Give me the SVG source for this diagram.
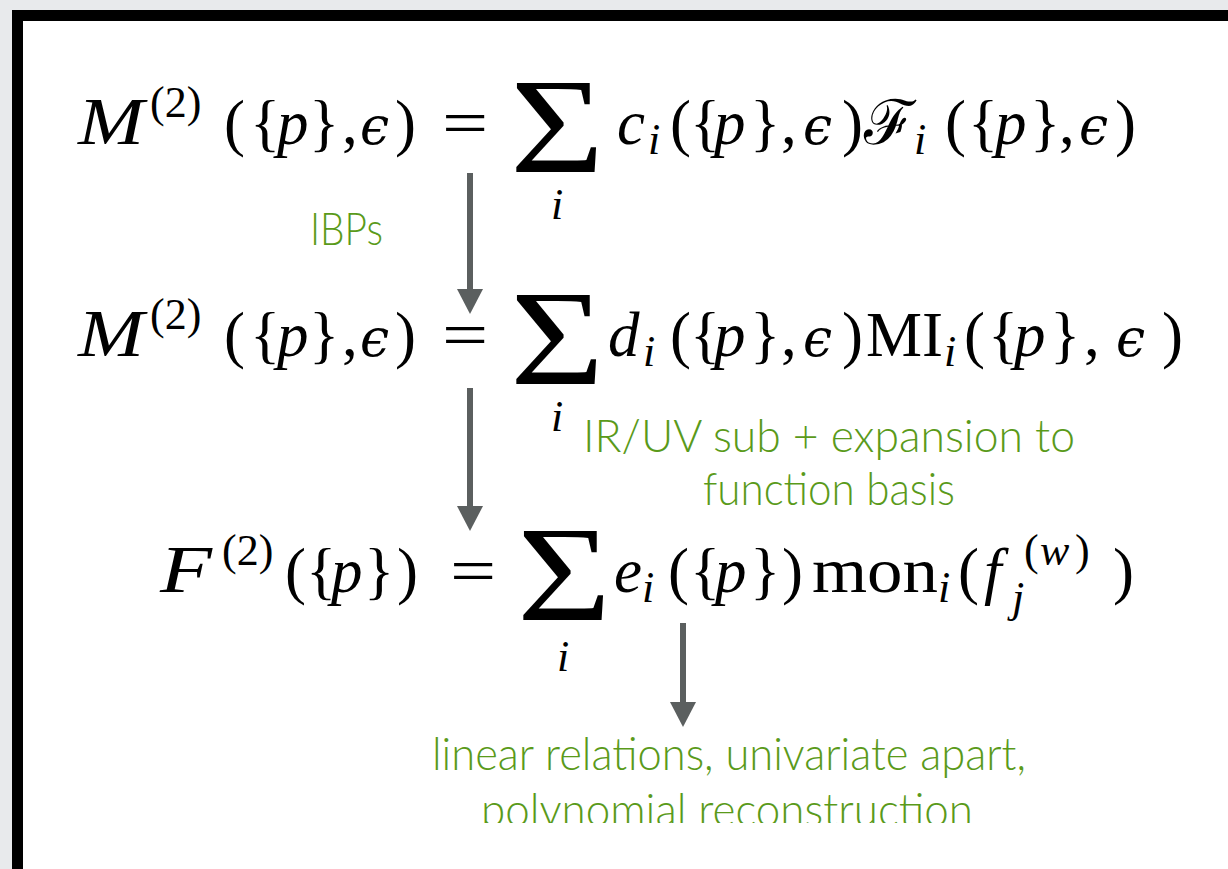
<svg xmlns="http://www.w3.org/2000/svg" width="1228" height="869" viewBox="0 0 1228 869">
<style>
.m{font-family:"Liberation Serif",serif;font-size:63px;fill:#000}
.it{font-style:italic}
.s{font-size:44px}
.big{font-size:67px}
.ep{font-family:"DejaVu Serif",serif;font-style:italic;font-size:52px}
.cal{font-size:62px}
.sig{font-family:"Liberation Serif",serif;font-size:136px;fill:#000}
.g{font-family:Lato,"Open Sans",sans-serif;font-weight:300;font-size:46px;fill:#5a9a1a}
.sh{stroke:#5b5f5f;stroke-width:6;fill:none}
</style>
<defs>
<marker id="ah" markerUnits="userSpaceOnUse" markerWidth="26" markerHeight="26" refX="0" refY="13" orient="auto">
<path d="M0,0 L25,13 L0,26 z" fill="#5b5f5f"/>
</marker>
<clipPath id="bot"><rect x="0" y="0" width="1228" height="823"/></clipPath>
</defs>
<rect x="0" y="0" width="1228" height="869" fill="#e8eaec"/>
<rect x="17.5" y="15.5" width="1230" height="880" fill="#fff" stroke="#000" stroke-width="11"/>

<g id="eq1">
<text class="m" y="144"><tspan class="it big" x="78" textLength="66" lengthAdjust="spacingAndGlyphs">M</tspan><tspan class="s" x="150" y="117">(2)</tspan><tspan x="224" y="144">(</tspan><tspan x="250">{</tspan><tspan class="it" x="277">p</tspan><tspan x="309">}</tspan><tspan x="342">,</tspan><tspan class="ep" x="360">ϵ</tspan><tspan x="395">)</tspan><tspan class="it" x="617">c</tspan><tspan class="it s" x="648" y="154">i</tspan><tspan x="670" y="144">(</tspan><tspan x="690">{</tspan><tspan class="it" x="714">p</tspan><tspan x="750">}</tspan><tspan x="781">,</tspan><tspan class="ep" x="803">ϵ</tspan><tspan x="842">)</tspan><tspan class="cal" x="864">ℱ</tspan><tspan class="it s" x="914" y="154">i</tspan><tspan x="945" y="144">(</tspan><tspan x="968">{</tspan><tspan class="it" x="995">p</tspan><tspan x="1030">}</tspan><tspan x="1059">,</tspan><tspan class="ep" x="1079">ϵ</tspan><tspan x="1115">)</tspan></text>
<text class="m" transform="translate(442,144) scale(1.3,1)">=</text>
<text class="sig" transform="translate(510,172) scale(1.19,1)">Σ</text>
<text class="m it s" x="551" y="219">i</text>
</g>

<g id="eq2">
<text class="m" y="356"><tspan class="it big" x="78" textLength="66" lengthAdjust="spacingAndGlyphs">M</tspan><tspan class="s" x="150" y="329">(2)</tspan><tspan x="224" y="356">(</tspan><tspan x="250">{</tspan><tspan class="it" x="277">p</tspan><tspan x="309">}</tspan><tspan x="342">,</tspan><tspan class="ep" x="360">ϵ</tspan><tspan x="395">)</tspan><tspan class="it" x="608">d</tspan><tspan class="it s" x="643" y="366">i</tspan><tspan x="670" y="356">(</tspan><tspan x="690">{</tspan><tspan class="it" x="714">p</tspan><tspan x="750">}</tspan><tspan x="781">,</tspan><tspan class="ep" x="803">ϵ</tspan><tspan x="842">)</tspan><tspan x="866">MI</tspan><tspan class="it s" x="944" y="366">i</tspan><tspan x="964" y="356">(</tspan><tspan x="988">{</tspan><tspan class="it" x="1014">p</tspan><tspan x="1050">}</tspan><tspan x="1084">,</tspan><tspan class="ep" x="1116">ϵ</tspan><tspan x="1162">)</tspan></text>
<text class="m" transform="translate(442,356) scale(1.3,1)">=</text>
<text class="sig" transform="translate(510,384) scale(1.19,1)">Σ</text>
<text class="m it s" x="551" y="431">i</text>
</g>

<g id="eq3">
<text class="m" y="592"><tspan class="it big" x="160" textLength="52" lengthAdjust="spacingAndGlyphs">F</tspan><tspan class="s" x="222" y="565">(2)</tspan><tspan x="285" y="592">(</tspan><tspan x="306">{</tspan><tspan class="it" x="331">p</tspan><tspan x="364">}</tspan><tspan x="397">)</tspan><tspan class="it" x="614">e</tspan><tspan class="it s" x="642" y="602">i</tspan><tspan x="668" y="592">(</tspan><tspan x="690">{</tspan><tspan class="it" x="715">p</tspan><tspan x="750">}</tspan><tspan x="782">)</tspan><tspan x="812" textLength="126" lengthAdjust="spacingAndGlyphs">mon</tspan><tspan class="it s" x="938" y="602">i</tspan><tspan x="958" y="592">(</tspan><tspan class="it" x="984">f</tspan><tspan class="it s" x="1012" y="612">j</tspan><tspan class="s" x="1024" y="565">(</tspan><tspan class="it s" x="1040">w</tspan><tspan class="s" x="1075">)</tspan><tspan x="1113" y="592">)</tspan></text>
<text class="m" transform="translate(450,592) scale(1.3,1)">=</text>
<text class="sig" transform="translate(517,620) scale(1.19,1)">Σ</text>
<text class="m it s" x="557" y="671">i</text>
</g>

<g id="connectors">
<line class="sh" x1="470" y1="173" x2="470" y2="289" marker-end="url(#ah)"/>
<line class="sh" x1="470" y1="388" x2="470" y2="506" marker-end="url(#ah)"/>
<line class="sh" x1="683" y1="623" x2="683" y2="702" marker-end="url(#ah)"/>
</g>

<g id="lbl-ibps"><text class="g" x="310" y="245" textLength="73" lengthAdjust="spacingAndGlyphs">IBPs</text></g>
<g id="lbl-iruv">
<text class="g" x="583" y="452" textLength="492" lengthAdjust="spacingAndGlyphs">IR/UV sub + expansion to</text>
<text class="g" x="703" y="505" textLength="252" lengthAdjust="spacingAndGlyphs">function basis</text>
</g>
<g id="lbl-linear" clip-path="url(#bot)">
<text class="g" x="432" y="770" textLength="594" lengthAdjust="spacingAndGlyphs">linear relations, univariate apart,</text>
<text class="g" x="481" y="826" textLength="492" lengthAdjust="spacingAndGlyphs">polynomial reconstruction</text>
</g>
</svg>
